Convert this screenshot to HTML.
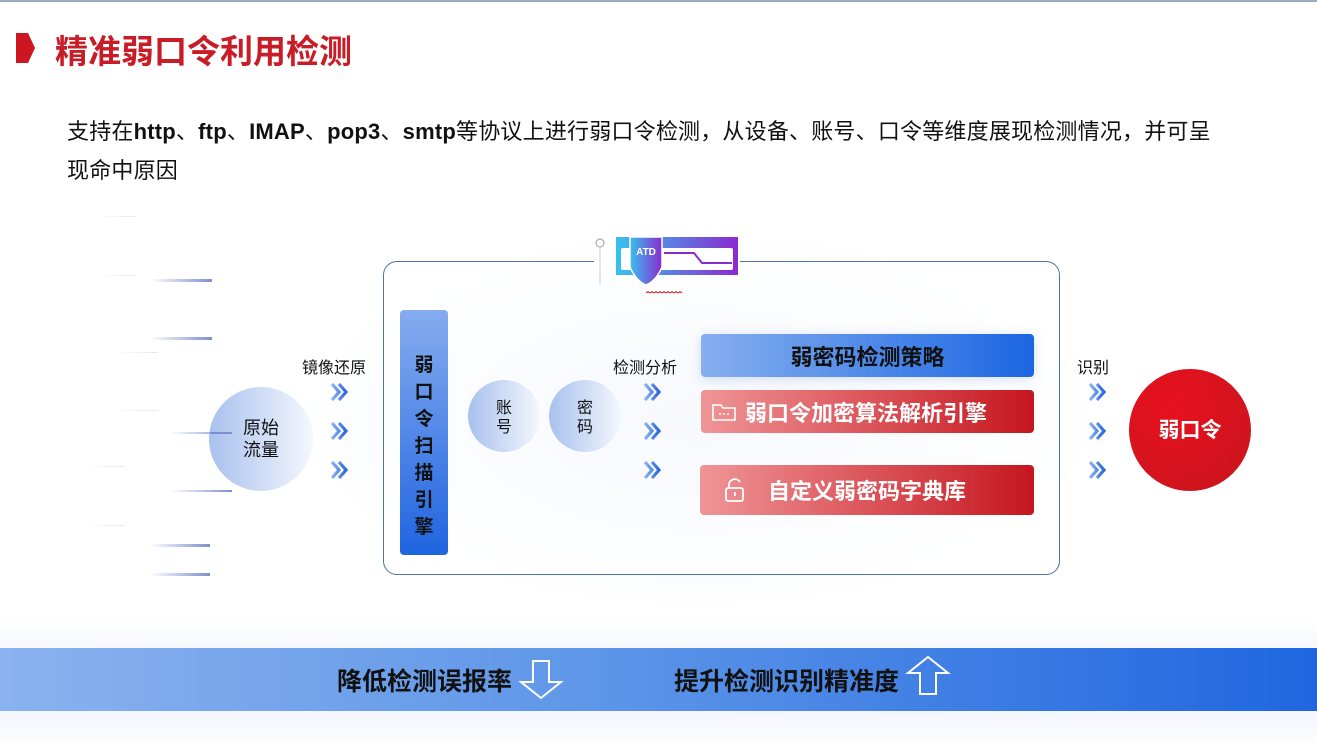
<!DOCTYPE html>
<html><head><meta charset="utf-8"><style>
*{margin:0;padding:0;box-sizing:border-box}
body{width:1317px;height:743px;position:relative;overflow:hidden;background:#fff;font-family:"Liberation Sans","Noto Sans CJK SC",sans-serif;color:#111}
.a{position:absolute}
.cn{font-family:"Noto Sans CJK SC","WenQuanYi Zen Hei",sans-serif}
.ln{position:absolute;height:3px;background:linear-gradient(90deg,rgba(120,140,210,0),#7d8fd0)}
.lt{position:absolute;height:1px;background:linear-gradient(90deg,rgba(200,210,230,0),#e3e8f2)}
.circ{position:absolute;border-radius:50%;background:linear-gradient(90deg,#a9c1ee,#f4f7fd);display:flex;align-items:center;justify-content:center;text-align:center;line-height:1.2}
.lbl{position:absolute;font-size:16px}
.bar{position:absolute;border-radius:4px;display:flex;align-items:center;color:#fff;font-weight:bold;font-size:22px}
</style></head><body>
<div class="a" style="left:0;top:0;width:1317px;height:2px;background:#9aaac0"></div>
<svg class="a" style="left:16px;top:33px" width="20" height="31"><polygon points="0,0 12,0 19,15 12,30 0,30" fill="#cc1620"/></svg>
<div class="a cn" style="left:55px;top:27px;font-size:33px;font-weight:bold;color:#c81c26;line-height:44px">精准弱口令利用检测</div>
<div class="a" style="left:67px;top:112px;font-size:22px;line-height:39px;width:1240px;letter-spacing:0.2px">支持在<b>http</b>、<b>ftp</b>、<b>IMAP</b>、<b>pop3</b>、<b>smtp</b>等协议上进行弱口令检测，从设备、账号、口令等维度展现检测情况，并可呈<br>现命中原因</div>

<div class="lt" style="left:100px;top:216px;width:35px"></div>
<div class="lt" style="left:100px;top:275px;width:35px"></div>
<div class="ln" style="left:150px;top:279px;width:62px"></div>
<div class="ln" style="left:150px;top:337px;width:62px"></div>
<div class="lt" style="left:115px;top:352px;width:43px"></div>
<div class="lt" style="left:115px;top:410px;width:43px"></div>
<div class="ln" style="left:170px;top:432px;width:62px;height:2px"></div>
<div class="lt" style="left:85px;top:466px;width:40px"></div>
<div class="ln" style="left:170px;top:490px;width:62px;height:2px"></div>
<div class="lt" style="left:85px;top:525px;width:40px"></div>
<div class="ln" style="left:150px;top:544px;width:60px"></div>
<div class="ln" style="left:150px;top:573px;width:60px"></div>

<div class="a" style="left:300px;top:230px;width:800px;height:380px;border-radius:60px;background:radial-gradient(ellipse at center,rgba(225,233,248,.6),rgba(255,255,255,0) 70%)"></div>

<div class="circ cn" style="left:209px;top:387px;width:104px;height:104px;font-size:18px">原始<br>流量</div>
<div class="a" style="left:210px;top:432px;width:22px;height:2px;background:#7d8fd0"></div>
<div class="lbl cn" style="left:302px;top:354px">镜像还原</div>

<div class="a" style="left:383px;top:261px;width:677px;height:314px;border:1px solid #4f72a3;border-radius:14px;background:rgba(255,255,255,.5)"></div>

<svg class="a" style="left:594px;top:233px" width="146" height="62">
<defs><linearGradient id="g1" x1="0" x2="1"><stop offset="0" stop-color="#38c0f0"/><stop offset="1" stop-color="#8a2bd0"/></linearGradient></defs>
<rect x="0" y="8" width="146" height="30" fill="#fff"/>
<circle cx="6" cy="10" r="4" fill="#fff" stroke="#999"/><line x1="6" y1="14" x2="6" y2="52" stroke="#ccc"/>
<path d="M22 4 L144 4 L144 42 L22 42 Z" fill="url(#g1)"/>
<rect x="26" y="14" width="114" height="24" rx="3" fill="#fff" stroke="url(#g1)" stroke-width="2"/>
<path d="M70 20 L100 20 L108 30 L138 30" fill="none" stroke="#8a2bd0" stroke-width="2"/>
<path d="M36 4 L68 4 L68 34 Q62 48 52 52 Q42 48 36 34 Z" fill="url(#g1)" stroke="#fff" stroke-width="1.5"/>
<text x="52" y="22" font-family="Liberation Sans" font-weight="bold" font-size="10" fill="#fff" text-anchor="middle">ATD</text>
<path d="M52 60 l2 -1.5 l2 1.5 l2 -1.5 l2 1.5 l2 -1.5 l2 1.5 l2 -1.5 l2 1.5 l2 -1.5 l2 1.5 l2 -1.5 l2 1.5 l2 -1.5 l2 1.5 l2 -1.5 l2 1.5 l2 -1.5 l2 1.5" fill="none" stroke="#c00" stroke-width=".8"/>
</svg>

<div class="a cn" style="left:400px;top:310px;width:48px;height:245px;border-radius:4px;background:linear-gradient(180deg,#86acef,#1f64e0);font-weight:bold;font-size:19px;line-height:27px;text-align:center;padding-top:40px">弱<br>口<br>令<br>扫<br>描<br>引<br>擎</div>

<div class="circ cn" style="left:468px;top:380px;width:72px;height:72px;font-size:16px">账<br>号</div>
<div class="circ cn" style="left:549px;top:380px;width:72px;height:72px;font-size:16px">密<br>码</div>
<div class="lbl cn" style="left:613px;top:354px">检测分析</div>
<div class="lbl cn" style="left:1077px;top:354px">识别</div>

<svg class="a" style="left:0;top:0" width="1317" height="743">
<defs><linearGradient id="ch" x1="0" x2="1"><stop offset="0" stop-color="#8cb2f2"/><stop offset="1" stop-color="#2a68dc"/></linearGradient></defs>
<g fill="none" stroke="url(#ch)" stroke-width="3.2">
<path d="M332 384 l7 8 l-7 8 M339 384 l7 8 l-7 8"/>
<path d="M332 423 l7 8 l-7 8 M339 423 l7 8 l-7 8"/>
<path d="M332 462 l7 8 l-7 8 M339 462 l7 8 l-7 8"/>
<path d="M645 384 l7 8 l-7 8 M652 384 l7 8 l-7 8"/>
<path d="M645 423 l7 8 l-7 8 M652 423 l7 8 l-7 8"/>
<path d="M645 462 l7 8 l-7 8 M652 462 l7 8 l-7 8"/>
<path d="M1090 384 l7 8 l-7 8 M1097 384 l7 8 l-7 8"/>
<path d="M1090 423 l7 8 l-7 8 M1097 423 l7 8 l-7 8"/>
<path d="M1090 462 l7 8 l-7 8 M1097 462 l7 8 l-7 8"/>
</g></svg>

<div class="bar cn" style="left:701px;top:334px;width:333px;height:43px;background:linear-gradient(90deg,#86aff0,#1b66e2);color:#111;justify-content:center;box-shadow:0 2px 12px rgba(120,150,220,.3)">弱密码检测策略</div>
<div class="bar cn" style="left:701px;top:390px;width:333px;height:43px;background:linear-gradient(90deg,#ef9597,#c6161e);padding-left:10px">
<svg width="26" height="20" style="margin-right:8px"><path d="M2 3 h8 l2 3 h12 v12 h-22 z" fill="none" stroke="#fff" stroke-width="1.6"/><circle cx="9" cy="12" r="1" fill="#fff"/><circle cx="13" cy="12" r="1" fill="#fff"/><circle cx="17" cy="12" r="1" fill="#fff"/></svg>弱口令加密算法解析引擎</div>
<div class="bar cn" style="left:700px;top:465px;width:334px;height:50px;background:linear-gradient(90deg,#ef9597,#c6161e);padding-left:24px">
<svg width="22" height="24" style="margin-right:22px"><path d="M5 10 V6 a6 6 0 0 1 11 -2" fill="none" stroke="#fff" stroke-width="1.8"/><rect x="2" y="10" width="17" height="13" rx="2" fill="none" stroke="#fff" stroke-width="1.8"/><rect x="10" y="14" width="1.8" height="4" fill="#fff"/></svg>自定义弱密码字典库</div>

<div class="circ cn" style="left:1129px;top:369px;width:122px;height:122px;background:radial-gradient(circle at 35% 30%,#e8101e,#c6161e);color:#fff;font-weight:bold;font-size:21px">弱口令</div>

<div class="a" style="left:0;top:620px;width:1317px;height:123px;background:linear-gradient(180deg,#fff,#eef2fb 40%,#f3f6fc 75%,#fbfcfe)"></div>
<div class="a" style="left:0;top:648px;width:1317px;height:63px;background:linear-gradient(90deg,#8ab2ef,#5e96e8 45%,#1f66e0)"></div>
<div class="a cn" style="left:337px;top:662px;font-size:25px;font-weight:bold;line-height:36px">降低检测误报率</div>
<svg class="a" style="left:518px;top:658px" width="48" height="42"><path d="M15 3 h16 v21 h12 l-20 16 l-20 -16 h12 z" fill="none" stroke="#fff" stroke-width="2"/></svg>
<div class="a cn" style="left:674px;top:662px;font-size:25px;font-weight:bold;line-height:36px">提升检测识别精准度</div>
<svg class="a" style="left:905px;top:655px" width="48" height="42"><path d="M15 39 h16 v-21 h12 l-20 -16 l-20 16 h12 z" fill="none" stroke="#fff" stroke-width="2"/></svg>
</body></html>
